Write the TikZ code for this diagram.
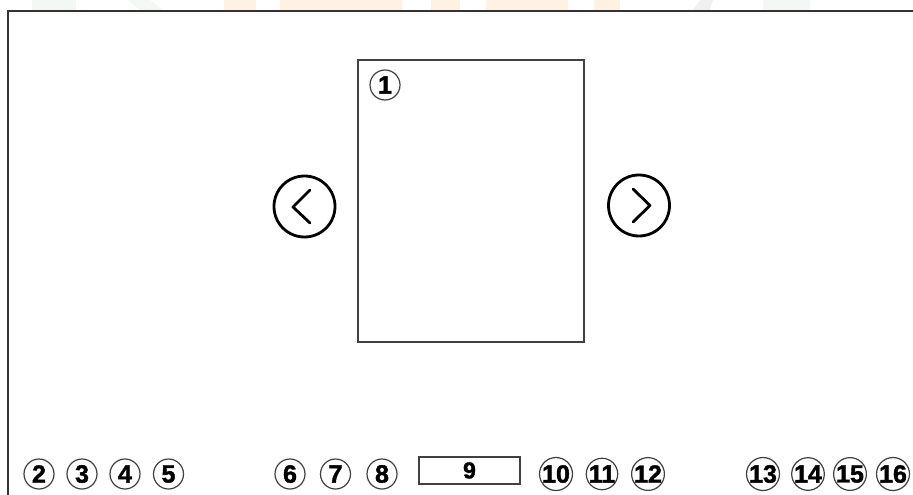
\documentclass[tikz,border=0pt]{standalone}
\usepackage{fontspec}
\setmainfont{Liberation Sans}
\newfontfamily\numfont[FakeBold=1.6]{Liberation Sans Bold}
\begin{document}
\begin{tikzpicture}[x=1pt,y=-1pt,
  numc/.style={circle,draw=black!75,line width=1.2pt,minimum size=30pt,inner sep=0pt,
    font=\fontsize{25}{25}\numfont},
  navc/.style={circle,draw=black,line width=2.8pt,minimum size=61pt,inner sep=0pt},
  chev/.style={line width=2.8pt,line cap=round,line join=round},
  frame/.style={draw=black!80,line width=1.2pt},
  wmg/.style={fill=green!40!black!15!white,opacity=0.3,draw=none},
  wmo/.style={fill=orange!30!white,opacity=0.35,draw=none}]
\useasboundingbox (0,0) rectangle (913,495);
% faint watermark remnants at the top
\fill[wmg] (32,0) rectangle (76,10);
\fill[wmg] (128,0) -- (150,0) -- (163,10) -- (140,10) -- cycle;
\fill[wmo] (224,0) rectangle (256,10);
\fill[wmo] (280,0) rectangle (402,10);
\fill[wmo] (431,0) rectangle (460,10);
\fill[wmo] (486,0) rectangle (568,10);
\fill[wmo] (594,0) rectangle (620,10);
\fill[black!15,opacity=0.4] (700,0) -- (713,0) -- (710,10) -- (693,10) -- cycle;
\fill[wmg] (763,0) rectangle (810,10);
% frame
\draw[frame] (8,495) -- (8,11) -- (913,11);
% central panel
\node[draw=black!75,line width=1.2pt,minimum width=226pt,minimum height=282pt,inner sep=0pt] (panel) at (471,201) {};
\node[numc] (n1) at (385,85) {1};
% navigation
\node[navc] (prev) at (304.5,206.5) {};
\draw[chev] (310,190) -- (293,207) -- (310,223);
\node[navc] (next) at (639,205.5) {};
\draw[chev] (633,189) -- (650,205.5) -- (633,222);
% bottom row
\node[numc] (n2) at (39,474) {2};
\node[numc] (n3) at (82,474) {3};
\node[numc] (n4) at (125,474) {4};
\node[numc] (n5) at (168.5,474) {5};
\node[numc] (n6) at (290,474) {6};
\node[numc] (n7) at (335.5,474) {7};
\node[numc] (n8) at (382,474) {8};
\node[draw=black!75,line width=1.1pt,minimum width=101pt,minimum height=27pt,inner sep=0pt,
  font=\fontsize{23}{23}\numfont] (n9) at (469.5,470.5) {9};
\node[numc] (n10) at (556,474) {10};
\node[numc] (n11) at (602,474) {11};
\node[numc] (n12) at (648,474) {12};
\node[numc] (n13) at (763,474) {13};
\node[numc] (n14) at (808,474) {14};
\node[numc] (n15) at (850,474) {15};
\node[numc] (n16) at (893,474) {16};
\end{tikzpicture}
\end{document}
